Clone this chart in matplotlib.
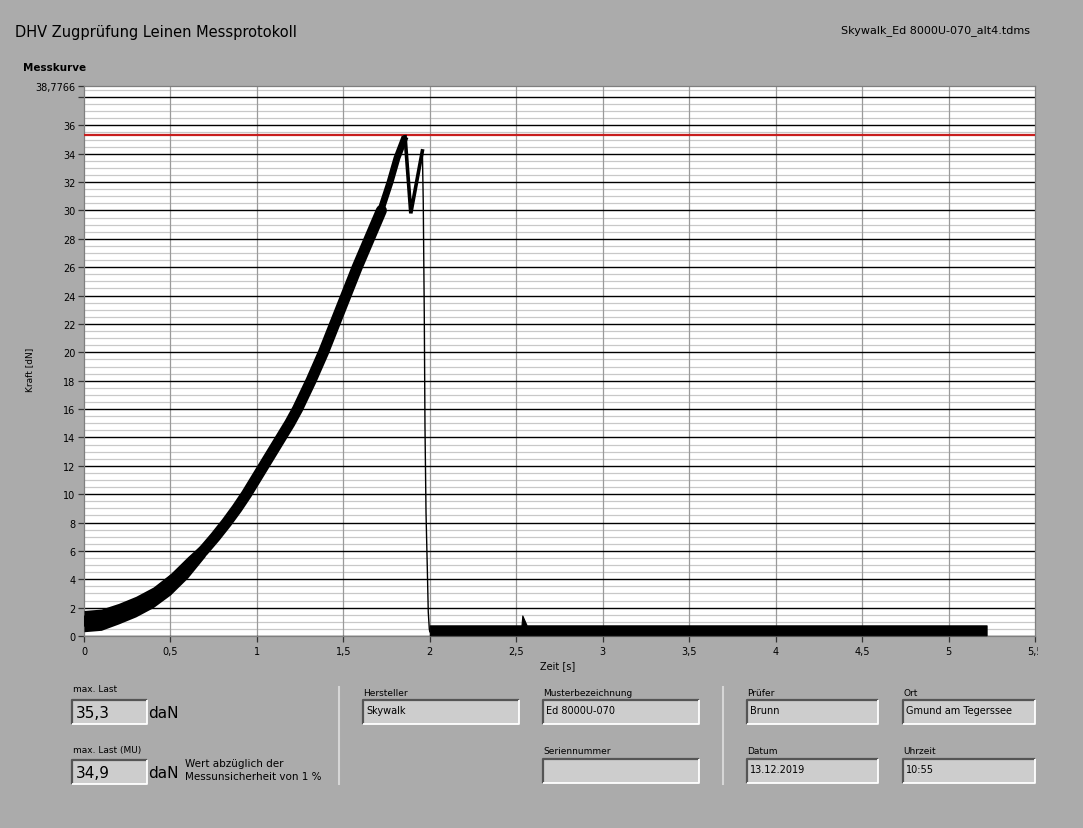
#!/usr/bin/env python3
"""DHV Zugpruefung Leinen Messprotokoll - Nachbau der LabVIEW-Seite."""

import matplotlib
matplotlib.use('Agg')
import matplotlib.pyplot as plt
from matplotlib.patches import Rectangle
from matplotlib.transforms import Bbox, TransformedBbox

# --- Messkurve ---------------------------------------------------------
# Anstieg: Mittellinie des breiten, verrauschten Bandes
rise_t = [0.0, 0.1, 0.2, 0.27, 0.36, 0.44, 0.52, 0.61, 0.69, 0.76, 0.825,
          0.885, 0.94, 0.99, 1.04, 1.09, 1.14, 1.19, 1.235, 1.313, 1.385,
          1.45, 1.515, 1.58, 1.65, 1.72]
rise_f = [1.05, 1.15, 1.55, 2.0, 2.5, 3.2, 4.0, 5.0, 6.0, 7.0, 8.0,
          9.0, 10.0, 11.0, 12.0, 13.0, 14.0, 15.0, 16.0, 18.0, 20.0,
          22.0, 24.0, 26.0, 28.0, 30.0]
# letzter, schmalerer Teil bis zur Spitze
top_t = [1.70, 1.77, 1.81, 1.857]
top_f = [29.4, 32.0, 33.7, 35.2]
# breiter verrauschter Beginn (untere / obere Kante)
start_t = [0.0, 0.1, 0.2, 0.3, 0.4, 0.5, 0.6, 0.7]
start_lo = [0.3, 0.4, 0.85, 1.35, 2.0, 2.9, 4.1, 5.6]
start_hi = [1.8, 1.9, 2.3, 2.8, 3.45, 4.4, 5.6, 6.7]
# Spitze und Bruch
peak_t = [1.857, 1.89, 1.957]
peak_f = [35.2, 29.8, 34.2]
drop_t = [1.957, 1.962, 1.968, 1.972, 1.978, 1.986, 1.991, 1.997, 2.0]
drop_f = [34.2, 30.6, 22.6, 14.8, 8.7, 4.5, 1.7, 0.5, 0.3]
# Rest nach dem Bruch (Band unten / oben)
tail_t = [2.0, 2.53, 2.535, 2.56, 5.22]
tail_lo = [0.05, 0.05, 0.05, 0.05, 0.05]
tail_hi = [0.75, 0.75, 1.45, 0.75, 0.75]

max_last = 35.3
max_last_mu = 34.9

x_ticks = [0, 0.5, 1, 1.5, 2, 2.5, 3, 3.5, 4, 4.5, 5, 5.5]
x_labels = ['0', '0,5', '1', '1,5', '2', '2,5', '3', '3,5', '4', '4,5', '5', '5,5']
y_top = 38.7766

fields = [
    # x0, y0, x1, y1, label, value
    (363, 701, 519, 725, 'Hersteller', 'Skywalk'),
    (543, 701, 699, 725, 'Musterbezeichnung', 'Ed 8000U-070'),
    (543, 760, 699, 784, 'Seriennummer', ''),
    (747, 701, 878, 725, 'Prüfer', 'Brunn'),
    (903, 701, 1035, 725, 'Ort', 'Gmund am Tegerssee'),
    (747, 760, 878, 784, 'Datum', '13.12.2019'),
    (903, 760, 1035, 784, 'Uhrzeit', '10:55'),
]

BG = '#ababab'
W, H = 1083, 829

fig = plt.figure(figsize=(W / 100, H / 100), dpi=100, facecolor=BG)

# Overlay in Pixelkoordinaten fuer Texte und Felder
ov = fig.add_axes([0, 0, 1, 1], zorder=0)
ov.set_xlim(0, W)
ov.set_ylim(H, 0)
ov.axis('off')


def field(x0, y0, x1, y1, value, size=7):
    ov.add_patch(Rectangle((x0, y0), x1 - x0, y1 - y0, facecolor='#cdcdcd',
                           edgecolor='none'))
    ov.plot([x0, x0, x1], [y1, y0, y0], color='#555555', lw=1.6,
            solid_capstyle='butt')
    ov.plot([x0, x1, x1], [y1, y1, y0], color='white', lw=1.3,
            solid_capstyle='butt')
    if value:
        ov.text(x0 + 3, (y0 + y1) / 2 - 2, value, fontsize=size,
                ha='left', va='center', color='black')


ov.text(15, 32, 'DHV Zugprüfung Leinen Messprotokoll', fontsize=10.5,
        ha='left', va='center', color='black')
ov.text(1030, 31, 'Skywalk_Ed 8000U-070_alt4.tdms', fontsize=8,
        ha='right', va='center', color='black')
ov.text(23, 68, 'Messkurve', fontsize=7.5, fontweight='bold',
        ha='left', va='center', color='black')
ov.text(30, 370, 'Kraft [dN]', fontsize=6.5, rotation=90,
        ha='center', va='center', color='black')
ov.text(558, 666, 'Zeit [s]', fontsize=7,
        ha='center', va='center', color='black')

# max. Last Felder
ov.text(73, 690, 'max. Last', fontsize=6.5, ha='left', va='center')
field(72, 701, 147, 725, '')
ov.text(76, 714, f'{max_last:.1f}'.replace('.', ','), fontsize=11,
        ha='left', va='center')
ov.text(148, 714, 'daN', fontsize=11, ha='left', va='center')

ov.text(73, 750, 'max. Last (MU)', fontsize=6.5, ha='left', va='center')
field(72, 761, 147, 785, '')
ov.text(76, 774, f'{max_last_mu:.1f}'.replace('.', ','), fontsize=11,
        ha='left', va='center')
ov.text(148, 774, 'daN', fontsize=11, ha='left', va='center')
ov.text(185, 764, 'Wert abzüglich der', fontsize=7.5, ha='left', va='center')
ov.text(185, 777, 'Messunsicherheit von 1 %', fontsize=7.5,
        ha='left', va='center')

# Trennlinien
for xs in (339, 723):
    ov.plot([xs, xs], [688, 785], color='#d6d6d6', lw=1.5)

for x0, y0, x1, y1, lab, val in fields:
    ov.text(x0, y0 - 8, lab, fontsize=6.5, ha='left', va='center')
    field(x0, y0, x1, y1, val)

# --- Diagramm ---------------------------------------------------------
ax = fig.add_axes([84 / W, 1 - 637 / H, 951 / W, 550 / H], zorder=1)
ax.set_facecolor('white')
ax.set_xlim(0, 5.5)
ax.set_ylim(0, y_top)

# Gitter
for yv in [i * 0.5 for i in range(78)]:
    if yv > y_top:
        break
    if yv % 2 == 0:
        ax.axhline(yv, color='black', lw=1.0, zorder=1)
    else:
        ax.axhline(yv, color='#c8c8c8', lw=0.9, zorder=0.5)
for xv in x_ticks[1:-1]:
    ax.axvline(xv, color='#9a9a9a', lw=0.9, zorder=0.8)

# Maximalkraft
ax.axhline(max_last, color='#c81e1e', lw=1.6, zorder=3)

# Kurve
ax.fill_between(start_t, start_lo, start_hi, color='black', lw=0, zorder=4)
ax.plot(rise_t, rise_f, color='black', lw=8.0, solid_joinstyle='round',
        solid_capstyle='round', zorder=4)
ax.plot(top_t, top_f, color='black', lw=5.0, solid_joinstyle='round',
        solid_capstyle='butt', zorder=4)
ax.plot(peak_t, peak_f, color='black', lw=2.6, solid_joinstyle='miter',
        zorder=4)
ax.plot(drop_t, drop_f, color='black', lw=1.0, zorder=4)
ax.fill_between(tail_t, tail_lo, tail_hi, color='black', lw=0.8,
                edgecolor='black', zorder=4)

y_ticks = list(range(0, 40, 2)) + [y_top]
y_labels = [str(v) for v in range(0, 38, 2)] + ['', '38,7766']
ax.set_yticks(y_ticks)
ax.set_yticklabels(y_labels)
ax.set_xticks(x_ticks)
ax.set_xticklabels(x_labels)
ax.tick_params(axis='both', direction='out', length=4, width=0.9,
               color='#333333', labelsize=7, labelcolor='black', pad=2)
ax.tick_params(axis='x', pad=3)
for s in ax.spines.values():
    s.set_color('#7f7f7f')
    s.set_linewidth(0.9)

# letztes x-Label wie im Original am Rand abgeschnitten
clip = TransformedBbox(Bbox([[0, 0], [1038 / W, 1]]), fig.transFigure)
for lbl in ax.get_xticklabels():
    lbl.set_clip_box(clip)
    lbl.set_clip_on(True)

fig.savefig('out.png', dpi=100, facecolor=BG)
print('Saved: out.png')
